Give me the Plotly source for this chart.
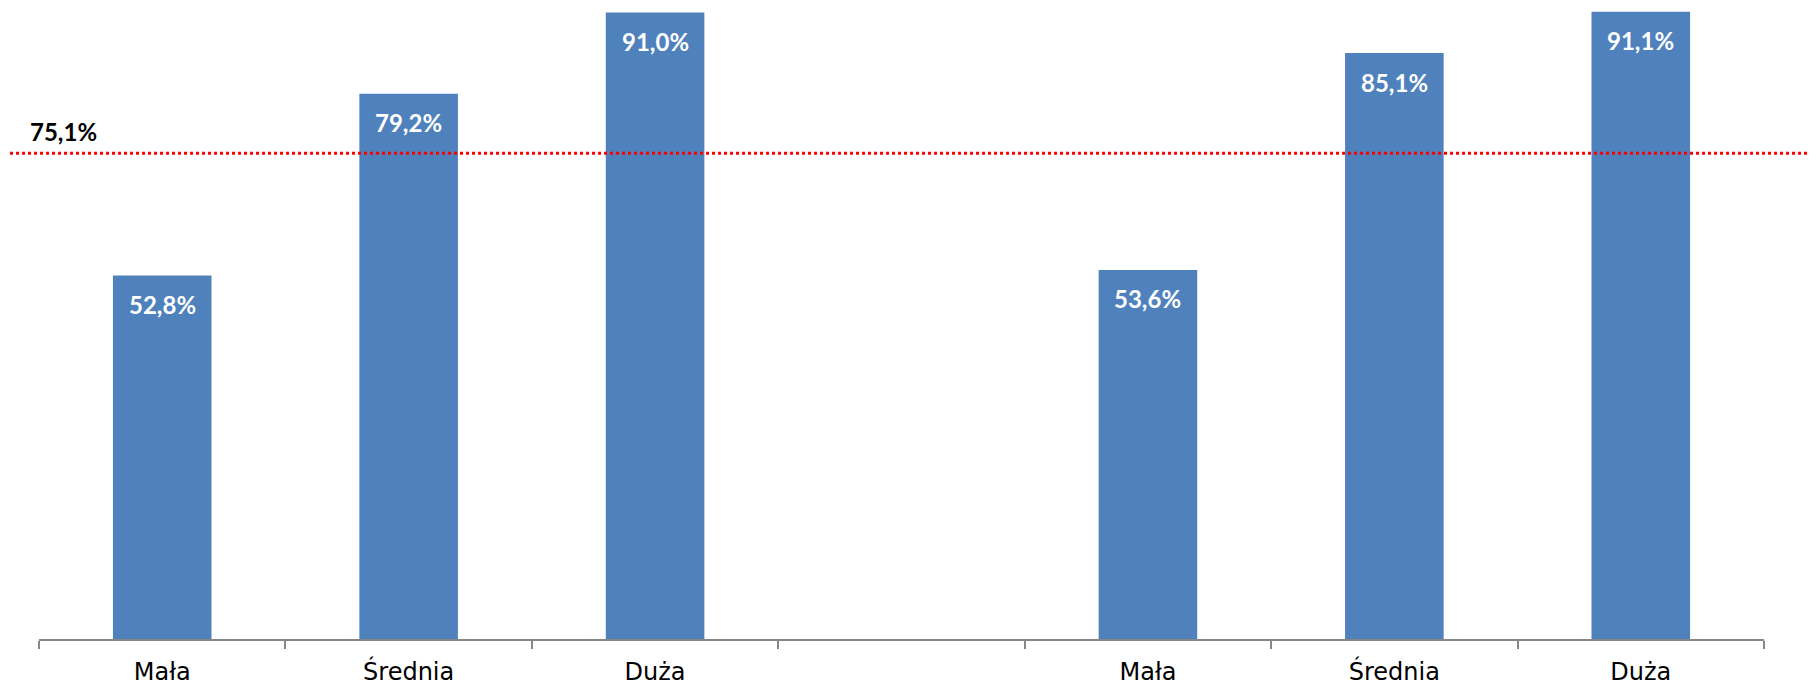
import plotly.graph_objs as go

# kategorie wielkości (dwie grupy rozdzielone pustą kolumną)
category_keys = ["m1", "s1", "d1", "gap", "m2", "s2", "d2"]
category_labels = ["Mała", "Średnia", "Duża", "", "Mała", "Średnia", "Duża"]
values = [52.8, 79.2, 91.0, None, 53.6, 85.1, 91.1]
benchmark = 75.1

BAR_COLOR = "#4F81BD"


def fmt(v):
    return f"{v:.1f}".replace(".", ",") + "%"


fig = go.Figure()
fig.add_trace(go.Bar(
    x=category_keys,
    y=values,
    marker=dict(color=BAR_COLOR, line=dict(width=0)),
    width=0.4,
    hoverinfo="skip",
    showlegend=False
))
# niewidoczny ślad, żeby oś y2 istniała
fig.add_trace(go.Scatter(
    x=[category_keys[0]], y=[benchmark], yaxis="y2",
    mode="markers", marker=dict(opacity=0),
    hoverinfo="skip", showlegend=False
))

for key, v in zip(category_keys, values):
    if v is None:
        continue
    fig.add_annotation(
        x=key, y=v, text=fmt(v), showarrow=False,
        yanchor="middle", yshift=-29,
        font=dict(family="Lato", size=24, color="white", weight="bold")
    )

# linia średniej
fig.add_shape(
    type="line", xref="paper", yref="y2",
    x0=-0.0168, x1=1.0301, y0=benchmark, y1=benchmark,
    line=dict(color="#FF0000", width=3, dash="dot")
)
fig.add_annotation(
    xref="paper", yref="y2", x=0.0142, y=benchmark,
    text=fmt(benchmark), showarrow=False,
    xanchor="center", yanchor="middle", yshift=22,
    font=dict(family="Lato", size=24, color="black", weight="bold")
)

fig.update_layout(
    width=1808, height=677,
    margin=dict(l=31, r=52, t=0, b=46),
    plot_bgcolor="white", paper_bgcolor="white",
    xaxis=dict(
        type="category",
        categoryorder="array", categoryarray=category_keys,
        tickvals=category_keys, ticktext=category_labels,
        tickson="boundaries", ticks="outside", ticklen=8,
        tickcolor="#868686", tickwidth=1.5,
        showline=True, linecolor="#868686", linewidth=1.5,
        showgrid=False, zeroline=False,
        tickfont=dict(family="DejaVu Sans", size=24, color="black"),
        ticklabelstandoff=10,
        automargin=False
    ),
    yaxis=dict(
        range=[0, 91.65], visible=False, showgrid=False, zeroline=False,
        fixedrange=True
    ),
    yaxis2=dict(
        range=[0, 97.57], overlaying="y", visible=False, showgrid=False,
        zeroline=False
    )
)

fig.write_html("out.html")
